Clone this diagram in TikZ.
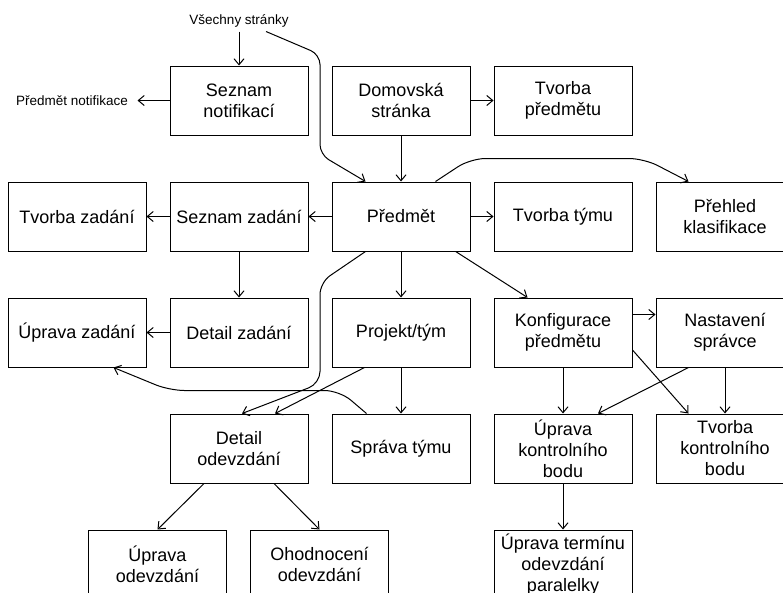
\documentclass[tikz,border=0pt]{standalone}
\usepackage{fontspec}
\setmainfont{Liberation Sans}
\usepackage{tikz}
\usetikzlibrary{arrows.meta,calc,positioning}

\begin{document}
\begin{tikzpicture}[->,>={Straight Barb[length=6pt,width=10pt]},line width=1pt,node distance=46pt and 23pt,
		page node/.style={rectangle, draw, align=center, inner sep=2pt, minimum width=138pt, minimum height=69pt, font=\fontsize{18}{21}\selectfont},
		note node/.style={inner sep=4pt, font=\fontsize{13.5}{16}\selectfont}]

	\useasboundingbox (0,0) rectangle (783pt,-592pt);

	\node[page node] (predmet) at (401pt,-216.5pt) {Předmět};
	\node[page node] (seznzad) [left=of predmet] {Seznam zadání};
	\node[page node] (tvzad) [left=of seznzad] {Tvorba zadání};
	\node[page node] (tvtym) [right=of predmet] {Tvorba týmu};
	\node[page node] (prehled) [right=of tvtym] {Přehled\\klasifikace};
	\node[page node] (home) [above=of predmet] {Domovská\\stránka};
	\node[page node] (notif) [left=of home] {Seznam\\notifikací};
	\node[page node] (tvpred) [right=of home] {Tvorba\\předmětu};
	\node[page node] (projekt) [below=of predmet] {Projekt/tým};
	\node[page node] (detzad) [left=of projekt] {Detail zadání};
	\node[page node] (upzad) [left=of detzad] {Úprava zadání};
	\node[page node] (konfig) [right=of projekt] {Konfigurace\\předmětu};
	\node[page node] (spravce) [right=of konfig] {Nastavení\\správce};
	\node[page node] (spravatym) [below=of projekt] {Správa týmu};
	\node[page node] (detodev) [left=of spravatym] {Detail\\odevzdání};
	\node[page node] (upkb) [right=of spravatym] {Úprava\\kontrolního\\bodu};
	\node[page node] (tvkb) [right=of upkb] {Tvorba\\kontrolního\\bodu};
	\node[page node] (ohod) [below=of detodev, xshift=80.5pt] {Ohodnocení\\odevzdání};
	\node[page node] (upodev) [left=of ohod] {Úprava\\odevzdání};
	\node[page node] (termin) [below=of upkb] {Úprava termínu\\odevzdání\\paralelky};
	\node[note node] (vsechny) [above=34pt of notif] {Všechny stránky};
	\node[note node] (pnotif) [left=32pt of notif, inner xsep=9pt] {Předmět notifikace};

	\coordinate (c1) at ($(notif.north east)!0.5!(home.north west)+(0,11pt)$);
	\coordinate (c2) at ($(notif.south east)!0.5!(home.south west)+(0,-19pt)$);
	\coordinate (c3) at ($(home.south east)!0.5!(predmet.north east)$);
	\coordinate (c4) at ($(tvpred.south east)!0.5!(prehled.north west)$);
	\coordinate (c5) at ($(seznzad.south east)!0.5!(predmet.south west)+(0,-31pt)$);
	\coordinate (c6) at ($(detzad.south east)!0.5!(projekt.south west)+(0,-16pt)$);
	\coordinate (c7) at ($(projekt.south west)!0.5!(spravatym.north west)+(8pt,0)$);
	\coordinate (c8) at ($(detzad.south west)!0.5!(detodev.north west)$);

		\path	(vsechny) 	edge node{} (notif);
		\path	(notif) 	edge node{} (pnotif);
		\path	(home) 		edge node{} (tvpred)
							edge node{} (predmet);
		\path	(predmet) 	edge node{} (seznzad)
							edge node{} (tvtym)
							edge node{} (projekt)
							edge node{} ([xshift=34pt]konfig.north west);
		\path	(seznzad) 	edge node{} (tvzad)
							edge node{} (detzad);
		\path	(detzad) 	edge node{} (upzad);
		\path	(projekt) 	edge node{} (spravatym);
		\path	([xshift=33pt]projekt.south west) 	edge node{} ([xshift=36pt]detodev.north);
		\path	([yshift=18pt]konfig.east) 	edge node{} ([yshift=18pt]spravce.west);
		\path	(konfig) 	edge node{} (upkb);
		\path	([yshift=-17.5pt]konfig.east) 	edge node{} ([xshift=33pt]tvkb.north west);
		\path	([xshift=33pt]spravce.south west) 	edge node{} ([xshift=35pt]upkb.north);
		\path	(spravce) 	edge node{} (tvkb);
		\path	(upkb) 		edge node{} (termin);
		\path	([xshift=-35pt]detodev.south) 	edge node{} (upodev.north);
		\path	([xshift=35pt]detodev.south) 	edge node{} (ohod.north);

		\draw[rounded corners=10pt] ([xshift=27pt]vsechny.south) -- (c1) -- (c2) -- ([xshift=34pt]predmet.north west);
		\draw[rounded corners=15pt] ([xshift=-35pt]predmet.north east) -- (c3) -- (c4) -- ([xshift=33pt]prehled.north west);
		\draw[rounded corners=12pt] ([xshift=34pt]predmet.south west) -- (c5) -- (c6) -- ([xshift=3pt]detodev.north);
		\draw[rounded corners=15pt] ([xshift=35pt]spravatym.north west) -- (c7) -- (c8) -- ([xshift=-33pt]upzad.south east);
\end{tikzpicture}
\end{document}
